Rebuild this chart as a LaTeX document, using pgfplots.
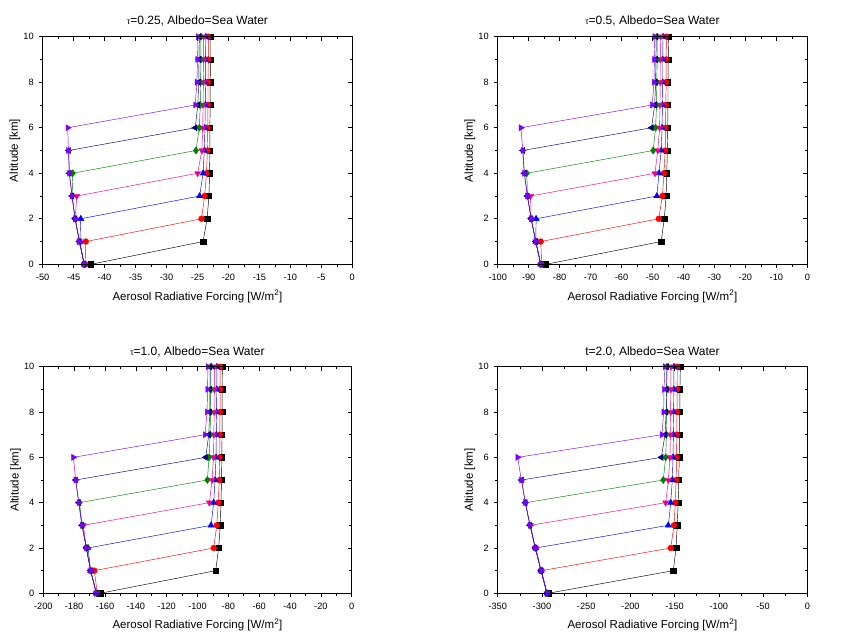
\documentclass[border=0pt]{standalone}
\usepackage{pgfplots}
\pgfplotsset{compat=1.18}
\usepackage{fontspec}
\setmainfont{Liberation Sans}
\definecolor{cgreen}{RGB}{0,128,0}
\definecolor{cnavy}{RGB}{0,0,128}
\definecolor{cviolet}{RGB}{128,0,255}
\pgfplotsset{
  every axis title shift=0pt,
  base/.style={scale only axis, ymin=0, ymax=10, xmax=0,
    axis line style={line width=0.8pt},
    major tick length=4pt, minor tick length=2.5pt,
    every tick/.style={black, line width=0.6pt},
    /pgf/number format/assume math mode=true,
    ticklabel style={font=\fontsize{9.2}{11}\selectfont},
    xticklabel style={yshift=-2.5pt},
    yticklabel style={xshift=-1.5pt},
    label style={font=\fontsize{11.5}{13}\selectfont},
    title style={font=\fontsize{12}{14}\selectfont, at={(axis description cs:0.5,1)}, anchor=base, yshift=11.7pt},
    ytick={0,2,...,10}, minor y tick num=1, minor x tick num=1, scaled x ticks=false},
  main/.style={base, xtick pos=left, ytick pos=left, tick align=outside,
    xlabel={Aerosol Radiative Forcing [W/m\textsuperscript{2}]}, ylabel={Altitude [km]},
    xlabel style={at={(axis description cs:0.5,-0.157)}, anchor=base},
    ylabel style={at={(axis description cs:-0.0895,0.5)}, anchor=center}},
  over/.style={base, xtick pos=right, ytick pos=right, tick align=inside, xticklabels={}, yticklabels={}},
  s1/.style={black, line width=0.45pt, mark=square*, mark size=2.7pt},
  s2/.style={red, line width=0.45pt, mark=*, mark size=2.9pt},
  s3/.style={blue, line width=0.45pt, mark=triangle*, mark size=3.5pt},
  s4/.style={magenta, line width=0.45pt, mark=triangle*, mark size=3.5pt, mark options={rotate=180}},
  s5/.style={cgreen, line width=0.45pt, mark=diamond*, mark size=3.5pt},
  s6/.style={cnavy, line width=0.45pt, mark=triangle*, mark size=3.5pt, mark options={rotate=90}},
  s7/.style={cviolet, line width=0.45pt, mark=triangle*, mark size=3.5pt, mark options={rotate=-90}},
}
\newcommand{\tauS}{{\fontsize{8.5}{9}\selectfont τ}}
\begin{document}
\begin{tikzpicture}[x=1pt,y=1pt]
\useasboundingbox (0,0) rectangle (843,641);
% ---------- Panel 1 ----------
\begin{axis}[main, at={(42.7pt,376.7pt)}, anchor=south west, width=309.6pt, height=227.6pt,
  xmin=-50, xtick={-50,-45,...,0},
  title={\tauS=0.25, Albedo=Sea Water}]
\addplot[s1] coordinates {(-42.2,0)(-24.1,1)(-23.45,2)(-23.15,3)(-23.05,4)(-23.0,5)(-23.0,6)(-22.95,7)(-22.95,8)(-22.9,9)(-22.9,10)};
\addplot[s2] coordinates {(-43.1,0)(-43.04,1)(-24.35,2)(-23.85,3)(-23.55,4)(-23.4,5)(-23.35,6)(-23.3,7)(-23.3,8)(-23.25,9)(-23.25,10)};
\addplot[s3] coordinates {(-43.3,0)(-44.0,1)(-43.85,2)(-24.65,3)(-24.1,4)(-23.9,5)(-23.8,6)(-23.75,7)(-23.7,8)(-23.7,9)(-23.65,10)};
\addplot[s4] coordinates {(-43.3,0)(-44.05,1)(-44.75,2)(-44.5,3)(-24.98,4)(-24.3,5)(-24.15,6)(-24.1,7)(-24.05,8)(-24.0,9)(-24.0,10)};
\addplot[s5] coordinates {(-43.3,0)(-44.07,1)(-44.77,2)(-45.25,3)(-45.15,4)(-25.25,5)(-24.7,6)(-24.55,7)(-24.5,8)(-24.45,9)(-24.45,10)};
\addplot[s6] coordinates {(-43.3,0)(-44.07,1)(-44.77,2)(-45.26,3)(-45.7,4)(-45.8,5)(-25.36,6)(-24.95,7)(-24.8,8)(-24.75,9)(-24.7,10)};
\addplot[s7] coordinates {(-43.3,0)(-44.07,1)(-44.77,2)(-45.26,3)(-45.7,4)(-45.85,5)(-45.95,6)(-25.36,7)(-25.1,8)(-25.0,9)(-24.9,10)};
\end{axis}
\begin{axis}[over, at={(42.7pt,376.7pt)}, anchor=south west, width=309.6pt, height=227.6pt,
  xmin=-50, xtick={-50,-45,...,0}]
\end{axis}
% ---------- Panel 2 ----------
\begin{axis}[main, at={(497.7pt,376.7pt)}, anchor=south west, width=309.6pt, height=227.6pt,
  xmin=-100, xtick={-100,-90,...,0},
  title={\tauS=0.5, Albedo=Sea Water}]
\addplot[s1] coordinates {(-84.4,0)(-47.2,1)(-46.2,2)(-45.6,3)(-45.4,4)(-45.2,5)(-45.1,6)(-45.0,7)(-45.0,8)(-44.9,9)(-44.8,10)};
\addplot[s2] coordinates {(-85.8,0)(-86.1,1)(-48.0,2)(-46.8,3)(-46.3,4)(-45.9,5)(-45.8,6)(-45.7,7)(-45.6,8)(-45.6,9)(-45.5,10)};
\addplot[s3] coordinates {(-86.1,0)(-87.7,1)(-87.6,2)(-48.6,3)(-47.9,4)(-47.2,5)(-46.9,6)(-46.8,7)(-46.7,8)(-46.7,9)(-46.6,10)};
\addplot[s4] coordinates {(-86.1,0)(-87.7,1)(-89.2,2)(-89.4,3)(-49.2,4)(-48.3,5)(-47.7,6)(-47.6,7)(-47.5,8)(-47.5,9)(-47.4,10)};
\addplot[s5] coordinates {(-86.1,0)(-87.7,1)(-89.2,2)(-90.4,3)(-90.6,4)(-49.8,5)(-49.0,6)(-48.7,7)(-48.6,8)(-48.5,9)(-48.5,10)};
\addplot[s6] coordinates {(-86.1,0)(-87.7,1)(-89.2,2)(-90.4,3)(-91.4,4)(-91.9,5)(-50.3,6)(-49.3,7)(-49.0,8)(-48.9,9)(-48.8,10)};
\addplot[s7] coordinates {(-86.1,0)(-87.7,1)(-89.2,2)(-90.4,3)(-91.4,4)(-91.9,5)(-92.5,6)(-50.1,7)(-49.5,8)(-49.4,9)(-49.3,10)};
\end{axis}
\begin{axis}[over, at={(497.7pt,376.7pt)}, anchor=south west, width=309.6pt, height=227.6pt,
  xmin=-100, xtick={-100,-90,...,0}]
\end{axis}
% ---------- Panel 3 ----------
\begin{axis}[main, at={(43.3pt,47.7pt)}, anchor=south west, width=308.4pt, height=226.6pt,
  xmin=-200, xtick={-200,-180,...,0},
  title={\tauS=1.0, Albedo=Sea Water}]
\addplot[s1] coordinates {(-163.2,0)(-88.2,1)(-86.3,2)(-85.2,3)(-84.8,4)(-84.4,5)(-84.2,6)(-84.1,7)(-84.0,8)(-84.0,9)(-83.9,10)};
\addplot[s2] coordinates {(-165.0,0)(-166.9,1)(-89.5,2)(-87.5,3)(-86.5,4)(-85.9,5)(-85.6,6)(-85.5,7)(-85.4,8)(-85.3,9)(-85.3,10)};
\addplot[s3] coordinates {(-165.6,0)(-169.3,1)(-171.0,2)(-91.2,3)(-89.5,4)(-88.6,5)(-88.0,6)(-87.8,7)(-87.6,8)(-87.5,9)(-87.4,10)};
\addplot[s4] coordinates {(-165.6,0)(-169.3,1)(-172.1,2)(-174.0,3)(-92.3,4)(-90.5,5)(-89.6,6)(-89.4,7)(-89.2,8)(-89.1,9)(-89.0,10)};
\addplot[s5] coordinates {(-165.6,0)(-169.3,1)(-172.1,2)(-174.9,3)(-176.5,4)(-93.6,5)(-92.5,6)(-91.8,7)(-91.6,8)(-91.4,9)(-91.3,10)};
\addplot[s6] coordinates {(-165.6,0)(-169.3,1)(-172.1,2)(-174.9,3)(-177.0,4)(-179.0,5)(-94.7,6)(-92.7,7)(-92.1,8)(-91.9,9)(-91.8,10)};
\addplot[s7] coordinates {(-165.6,0)(-169.3,1)(-172.1,2)(-174.9,3)(-177.0,4)(-179.0,5)(-180.5,6)(-95.1,7)(-93.8,8)(-93.5,9)(-93.2,10)};
\end{axis}
\begin{axis}[over, at={(43.3pt,47.7pt)}, anchor=south west, width=308.4pt, height=226.6pt,
  xmin=-200, xtick={-200,-180,...,0}]
\end{axis}
% ---------- Panel 4 ----------
\begin{axis}[main, at={(497.7pt,47.7pt)}, anchor=south west, width=309.6pt, height=226.6pt,
  xmin=-350, xtick={-350,-300,...,0},
  title={t=2.0, Albedo=Sea Water}]
\addplot[s1] coordinates {(-293,0)(-151.5,1)(-148.4,2)(-147,3)(-146,4)(-145.3,5)(-144.8,6)(-144.5,7)(-144.2,8)(-144.0,9)(-143.5,10)};
\addplot[s2] coordinates {(-294,0)(-300.5,1)(-154.4,2)(-150.7,3)(-149.2,4)(-148.3,5)(-147.8,6)(-147.5,7)(-147.3,8)(-147.1,9)(-147.0,10)};
\addplot[s3] coordinates {(-294.3,0)(-301,1)(-307,2)(-157.1,3)(-154.4,4)(-152.6,5)(-151.8,6)(-151.4,7)(-151.1,8)(-150.9,9)(-150.7,10)};
\addplot[s4] coordinates {(-294.3,0)(-301,1)(-307.5,2)(-313,3)(-160.1,4)(-157.1,5)(-155.3,6)(-154.8,7)(-154.5,8)(-154.3,9)(-154.1,10)};
\addplot[s5] coordinates {(-294.3,0)(-301,1)(-307.5,2)(-313.5,3)(-318.5,4)(-162.8,5)(-160.1,6)(-159.3,7)(-159.0,8)(-158.8,9)(-158.6,10)};
\addplot[s6] coordinates {(-294.3,0)(-301,1)(-307.5,2)(-313.5,3)(-318.8,4)(-323,5)(-165,6)(-160.9,7)(-159.5,8)(-159.0,9)(-158.7,10)};
\addplot[s7] coordinates {(-294.3,0)(-301,1)(-307.5,2)(-313.5,3)(-318.8,4)(-323.3,5)(-327.4,6)(-164.3,7)(-162.4,8)(-162.0,9)(-160.9,10)};
\end{axis}
\begin{axis}[over, at={(497.7pt,47.7pt)}, anchor=south west, width=309.6pt, height=226.6pt,
  xmin=-350, xtick={-350,-300,...,0}]
\end{axis}
\end{tikzpicture}
\end{document}
